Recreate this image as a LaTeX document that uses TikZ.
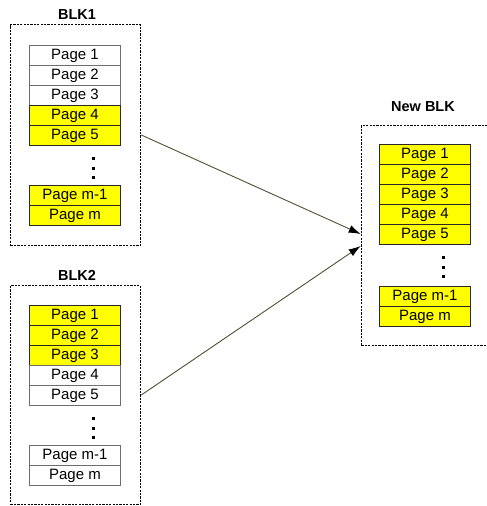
\documentclass[tikz,border=0pt]{standalone}
\usepackage{fontspec}
\setmainfont{Liberation Sans}
\usetikzlibrary{arrows.meta}
\definecolor{pgyellow}{RGB}{255,255,0}
\definecolor{arrowline}{RGB}{80,80,50}
\definecolor{wborder}{RGB}{110,110,110}
\definecolor{yborder}{RGB}{40,40,40}
\tikzset{
  pagebox/.style={minimum width=91pt, minimum height=20pt, inner sep=0pt, anchor=north west,
    line width=0.9pt, font=\fontsize{15}{16}\selectfont},
  wp/.style={pagebox, draw=wborder, fill=white},
  yp/.style={pagebox, draw=yborder, fill=pgyellow},
  blkbox/.style={draw=black, line width=1.3pt, dash pattern=on 2.2pt off 1.2pt, anchor=north west, inner sep=0pt},
  blklabel/.style={font=\bfseries\fontsize{14.5}{16}\selectfont, inner sep=0pt},
  vdot/.style={rectangle, fill=black, inner sep=0pt, minimum size=3pt},
  conn/.style={draw=arrowline, line width=0.9pt, -{Latex[length=12pt,width=8pt,color=black]}}
}
\begin{document}
\begin{tikzpicture}[x=1pt,y=-1pt]
\useasboundingbox (0,0) rectangle (487,506);
\clip (0,0) rectangle (487,506);
% boxes
\node[blkbox, minimum width=130pt, minimum height=221pt] (blk1) at (10,24) {};
\node[blkbox, minimum width=130pt, minimum height=219pt] (blk2) at (10,285) {};
\node[blkbox, minimum width=140pt, minimum height=220pt] (blk3) at (360.7,125) {};
% labels
\node[blklabel] (l1) at (77,15) {BLK1};
\node[blklabel] (l2) at (77,275) {BLK2};
\node[blklabel] (l3) at (423,107) {New BLK};
% BLK1 pages
\node[wp] (a1) at (29,45) {Page 1};
\node[wp] (a2) at (29,65) {Page 2};
\node[wp] (a3) at (29,85) {Page 3};
\node[yp] (a4) at (29,105) {Page 4};
\node[yp] (a5) at (29,125) {Page 5};
\node[vdot] (ad1) at (93,158) {};
\node[vdot] (ad2) at (93,168) {};
\node[vdot] (ad3) at (93,177.5) {};
\node[yp] (am1) at (29,185) {Page m-1};
\node[yp] (am) at (29,205) {Page m};
% BLK2 pages
\node[yp] (b1) at (29,305) {Page 1};
\node[yp] (b2) at (29,325) {Page 2};
\node[yp] (b3) at (29,345) {Page 3};
\node[wp] (b4) at (29,365) {Page 4};
\node[wp] (b5) at (29,385) {Page 5};
\node[vdot] (bd1) at (93,418) {};
\node[vdot] (bd2) at (93,428) {};
\node[vdot] (bd3) at (93,437.5) {};
\node[wp] (bm1) at (29,445) {Page m-1};
\node[wp] (bm) at (29,465) {Page m};
% New BLK pages
\node[yp] (c1) at (379,144) {Page 1};
\node[yp] (c2) at (379,164) {Page 2};
\node[yp] (c3) at (379,184) {Page 3};
\node[yp] (c4) at (379,204) {Page 4};
\node[yp] (c5) at (379,224) {Page 5};
\node[vdot] (cd1) at (443,257) {};
\node[vdot] (cd2) at (443,267) {};
\node[vdot] (cd3) at (443,276.5) {};
\node[yp] (cm1) at (379,286) {Page m-1};
\node[yp] (cm) at (379,306) {Page m};
% connectors
\coordinate (s1) at (blk1.east |- 0,135);
\coordinate (s2) at (blk2.east |- 0,395);
\coordinate (e1) at (blk3.west |- 0,234);
\coordinate (e2) at (blk3.west |- 0,246);
\draw[conn] (s1) -- (e1);
\draw[conn] (s2) -- (e2);
\end{tikzpicture}
\end{document}
